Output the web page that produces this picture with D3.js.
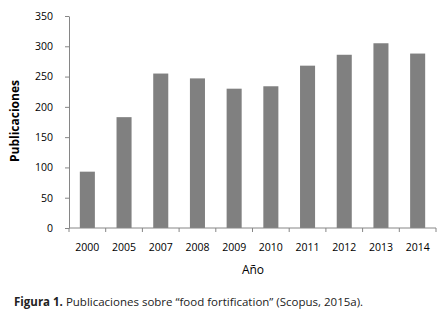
<!DOCTYPE html>
<html>
<head>
<meta charset="utf-8">
<script src="https://cdn.jsdelivr.net/npm/d3@7"></script>
<style>
  body { margin: 0; background: #fff; }
  svg { display: block; font-family: "Open Sans", sans-serif; }
</style>
</head>
<body>
<div id="chart"></div>
<script>
// Chart data.
const YEARS = ["2000", "2005", "2007", "2008", "2009", "2010", "2011", "2012", "2013", "2014"];
const PUBLICATIONS = [93, 183, 255, 247, 230, 234, 268, 286, 305, 288];
const Y_TICKS = [0, 50, 100, 150, 200, 250, 300, 350];

const WIDTH = 444;
const HEIGHT = 315;
const MARGIN = { left: 69, top: 16, right: 8, bottom: 87 };
const AXIS_COLOR = "#868686";

let svg = d3.select("#chart").append("svg")
  .attr("width", WIDTH)
  .attr("height", HEIGHT);

// Scales
let xScale = d3.scaleBand()
  .domain(YEARS)
  .range([MARGIN.left, WIDTH - MARGIN.right])
  .paddingInner(0.59)
  .paddingOuter(0.295);
let yScale = d3.scaleLinear()
  .domain([0, 350])
  .range([HEIGHT - MARGIN.bottom, MARGIN.top]);

// Bars
svg.append("g").selectAll("rect")
  .data(YEARS.map((d, i) => ({ year: d, value: PUBLICATIONS[i] })))
  .enter().append("rect")
  .attr("x", (d) => xScale(d.year))
  .attr("y", (d) => yScale(d.value))
  .attr("width", xScale.bandwidth())
  .attr("height", (d) => yScale(0) - yScale(d.value))
  .attr("fill", "#808080");

// Y axis
let yAxis = svg.append("g")
  .attr("transform", "translate(" + MARGIN.left + ",0)")
  .call(d3.axisLeft(yScale).tickValues(Y_TICKS).tickSize(4).tickSizeOuter(0).tickPadding(12));

// X axis, ticks sit on the band boundaries
let bandStep = xScale.step();
let xBoundaries = d3.range(YEARS.length + 1).map((i) => MARGIN.left + i * bandStep);
let xAxis = svg.append("g")
  .attr("transform", "translate(0," + yScale(0) + ")");
xAxis.append("line")
  .attr("x1", MARGIN.left).attr("x2", WIDTH - MARGIN.right)
  .attr("stroke", AXIS_COLOR);
xAxis.selectAll(".bound").data(xBoundaries).enter().append("line")
  .attr("x1", (d) => d).attr("x2", (d) => d)
  .attr("y1", 0).attr("y2", 4)
  .attr("stroke", AXIS_COLOR);
xAxis.selectAll("text").data(YEARS).enter().append("text")
  .attr("x", (d) => xScale(d) + xScale.bandwidth() / 2)
  .attr("y", 23)
  .attr("text-anchor", "middle")
  .attr("font-size", "10.5px")
  .attr("fill", "#000")
  .text((d) => d);

yAxis.select(".domain").attr("stroke", AXIS_COLOR);
yAxis.selectAll(".tick line").attr("stroke", AXIS_COLOR);
yAxis.selectAll(".tick text")
  .attr("font-size", "10.5px")
  .attr("font-family", "Open Sans, sans-serif")
  .attr("fill", "#000");

// Axis titles
svg.append("text")
  .attr("x", 253).attr("y", 274)
  .attr("text-anchor", "middle")
  .attr("font-size", "12px")
  .text("Año");
svg.append("text")
  .attr("transform", "translate(19,121) rotate(-90)")
  .attr("text-anchor", "middle")
  .attr("font-size", "12px")
  .attr("font-weight", "bold")
  .text("Publicaciones");

// Caption
let caption = svg.append("text")
  .attr("x", 14).attr("y", 306)
  .attr("font-size", "11.5px")
  .attr("fill", "#222");
caption.append("tspan").attr("font-weight", "bold").text("Figura 1.");
caption.append("tspan").text(" Publicaciones sobre “food fortification” (Scopus, 2015a).");
</script>
</body>
</html>
